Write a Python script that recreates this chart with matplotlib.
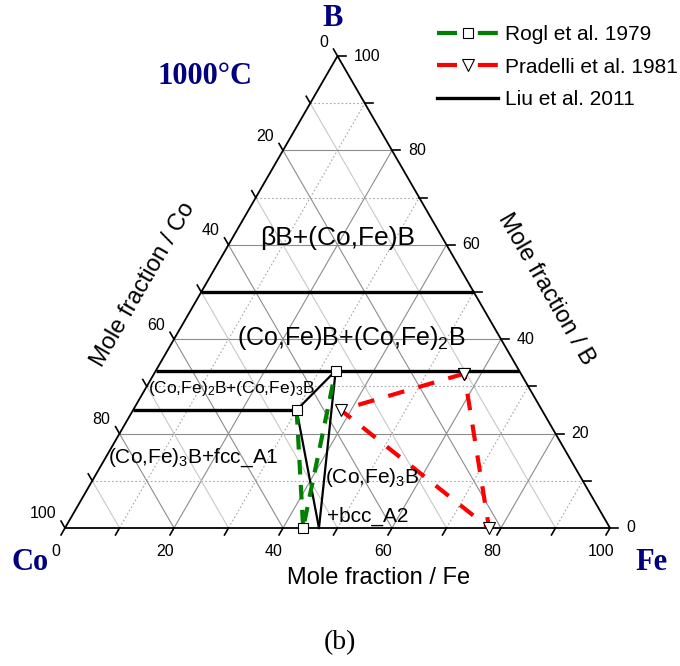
import numpy as np
import matplotlib
matplotlib.use("Agg")
import matplotlib.pyplot as plt

plt.rcParams['font.family'] = ['Liberation Sans', 'DejaVu Sans']
plt.rcParams['mathtext.fontset'] = 'custom'
plt.rcParams['mathtext.rm'] = 'Liberation Sans'
plt.rcParams['mathtext.default'] = 'regular'

# Co-Fe-B isothermal section at 1000 C, compositions as (x_Fe, x_B)
rogl_fe = [0.300, 0.437, 0.330]
rogl_b = [0.250, 0.000, 0.333]

pradelli_fe = [0.569, 0.381, 0.778, 0.569]
pradelli_b = [0.327, 0.250, 0.000, 0.327]

# Liu et al. 2011 calculated boundaries
liu_full_b = [0.50, 1 / 3]            # two-phase tie lines spanning the section
liu_co3b = (0.300, 0.250)             # (Co,Fe)3B end on the fcc side
liu_co2b = (0.330, 1 / 3)             # (Co,Fe)2B corner
liu_bcc = (0.466, 0.000)              # fcc/bcc point on the Co-Fe edge

axis_ticks = [0, 20, 40, 60, 80, 100]
navy = '#000080'
S3 = np.sqrt(3) / 2


def tern(fe, b):
    fe = np.asarray(fe, dtype=float)
    b = np.asarray(b, dtype=float)
    return fe + b / 2, b * S3


W, H = 680, 666
fig = plt.figure(figsize=(W / 100, H / 100), dpi=100)
ax = fig.add_axes([0, 0, 1, 1])
scale = 545.0
ax.set_xlim(-65 / scale, (W - 65) / scale)
ax.set_ylim(-(H - 528) / scale, 528 / scale)
ax.axis('off')


def fpx(x, y):
    # figure fraction from pixel position (origin top-left)
    return x / W, 1 - y / H


# grid
for k in range(1, 10):
    v = k / 10
    if k % 2 == 0:
        sty = dict(color='#8c8c8c', lw=0.8, ls='-')
        sty_co = sty
    else:
        sty = dict(color='#a8a8a8', lw=0.8, ls=(0, (1.5, 2)))
        sty_co = dict(color='#c8c8c8', lw=0.8, ls='-')
    ax.plot(*tern([0, 1 - v], [v, v]), zorder=1, **sty)          # const B
    ax.plot(*tern([v, v], [0, 1 - v]), zorder=1, **sty)          # const Fe
    ax.plot(*tern([1 - v, 0], [0, 1 - v]), zorder=1, **sty_co)   # const Co

# outline
ax.plot(*tern([0, 1, 0, 0], [0, 0, 1, 0]), color='black', lw=1.3, zorder=3,
        solid_joinstyle='miter')

# ticks and tick labels
L = 8 / scale
for i in range(0, 101, 10):
    t = i / 100
    # bottom: Fe
    x, y = tern(t, 0)
    ax.plot([x, x - 0.5 * L], [y, y - S3 * L], color='black', lw=1.2, zorder=3)
    # right: B
    x, y = tern(1 - t, t)
    ax.plot([x, x + L], [y, y], color='black', lw=1.2, zorder=3)
    # left: Co
    x, y = tern(0, 1 - t)
    ax.plot([x, x - 0.5 * L], [y, y + S3 * L], color='black', lw=1.2, zorder=3)

tick_fs = 11.5
for v in axis_ticks:
    t = v / 100
    x, y = tern(t, 0)
    ax.text(x - 9 / scale, y - 24 / scale, str(v), ha='center', va='center', fontsize=tick_fs)
    x, y = tern(1 - t, t)
    ax.text(x + 16 / scale, y, str(v), ha='left', va='center', fontsize=tick_fs)
    x, y = tern(0, 1 - t)
    ax.text(x - 9 / scale, y + 14 / scale, str(v), ha='right', va='center', fontsize=tick_fs)

# Liu et al. 2011
thick = dict(color='black', lw=2.4, solid_capstyle='butt', zorder=4)
thin = dict(color='black', lw=1.6, zorder=4)
for b in liu_full_b:
    ax.plot(*tern([0, 1 - b], [b, b]), **thick)
ax.plot(*tern([0, liu_co3b[0]], [liu_co3b[1], liu_co3b[1]]), **thick)
ax.plot(*tern([liu_co3b[0], liu_co2b[0]], [liu_co3b[1], liu_co2b[1]]), **thin)
ax.plot(*tern([liu_co3b[0], liu_bcc[0]], [liu_co3b[1], liu_bcc[1]]), **thin)
ax.plot(*tern([liu_co2b[0], liu_bcc[0]], [liu_co2b[1], liu_bcc[1]]), **thin)

# Rogl et al. 1979
ax.plot(*tern(rogl_fe, rogl_b), color='#008000', lw=3.0, ls=(0, (3.5, 2.5)),
        marker='s', ms=6.5, mfc='white', mec='black', mew=0.8, zorder=5)
# Pradelli et al. 1981
ax.plot(*tern(pradelli_fe, pradelli_b), color='#ff0000', lw=3.0, ls=(0, (4, 3.5)),
        marker='v', ms=9, mfc='white', mec='black', mew=0.8, zorder=5)

# legend: dash - marker - dash
leg_dash = (0, (4.8, 5.0))
h1, = ax.plot([], [], color='#008000', lw=3.0, ls=leg_dash, marker='s', ms=6.5,
              mfc='white', mec='black', mew=0.8)
h2, = ax.plot([], [], color='#ff0000', lw=3.0, ls=leg_dash, marker='v', ms=9,
              mfc='white', mec='black', mew=0.8)
h3, = ax.plot([], [], color='black', lw=2.4)
fig.legend([h1, h2, h3], ['Rogl et al. 1979', 'Pradelli et al. 1981', 'Liu et al. 2011'],
           loc='upper left', bbox_to_anchor=fpx(437, 25), frameon=False, fontsize=15,
           handlelength=2.95, handletextpad=0.3, labelspacing=0.65, borderpad=0,
           borderaxespad=0, numpoints=1)

# phase region labels
fs = 15
fig.text(*fpx(338, 245), 'βB+(Co,Fe)B', ha='center', va='baseline', fontsize=19)
fig.text(*fpx(351, 345), r'(Co,Fe)B+(Co,Fe)$_2$B', ha='center', va='baseline', fontsize=18)
fig.text(*fpx(148, 393), r'(Co,Fe)$_2$B+(Co,Fe)$_3$B', ha='left', va='baseline', fontsize=12.5)
fig.text(*fpx(108, 463), r'(Co,Fe)$_3$B+fcc_A1', ha='left', va='baseline', fontsize=fs)
fig.text(*fpx(325, 483), r'(Co,Fe)$_3$B', ha='left', va='baseline', fontsize=fs)
fig.text(*fpx(327, 522), '+bcc_A2', ha='left', va='baseline', fontsize=fs)

# axis titles
fig.text(*fpx(379, 578), 'Mole fraction / Fe', ha='center', va='center', fontsize=17)
fig.text(*fpx(143, 285), 'Mole fraction / Co', ha='center', va='center', fontsize=17,
         rotation=60, rotation_mode='anchor')
fig.text(*fpx(546, 289), 'Mole fraction / B', ha='center', va='center', fontsize=17,
         rotation=-60, rotation_mode='anchor')

# corner labels
serif = ['Liberation Serif', 'DejaVu Serif']
fig.text(*fpx(333, 19), 'B', ha='center', va='center', fontsize=22, fontweight='bold',
         color=navy, family=serif)
fig.text(*fpx(30, 562), 'Co', ha='center', va='center', fontsize=22, fontweight='bold',
         color=navy, family=serif)
fig.text(*fpx(651, 562), 'Fe', ha='center', va='center', fontsize=22, fontweight='bold',
         color=navy, family=serif)
fig.text(*fpx(205, 77), '1000°C', ha='center', va='center', fontsize=22, fontweight='bold',
         color=navy, family=serif)
fig.text(*fpx(340, 643), '(b)', ha='center', va='center', fontsize=20, family=serif)

fig.savefig('out.png', dpi=100)
